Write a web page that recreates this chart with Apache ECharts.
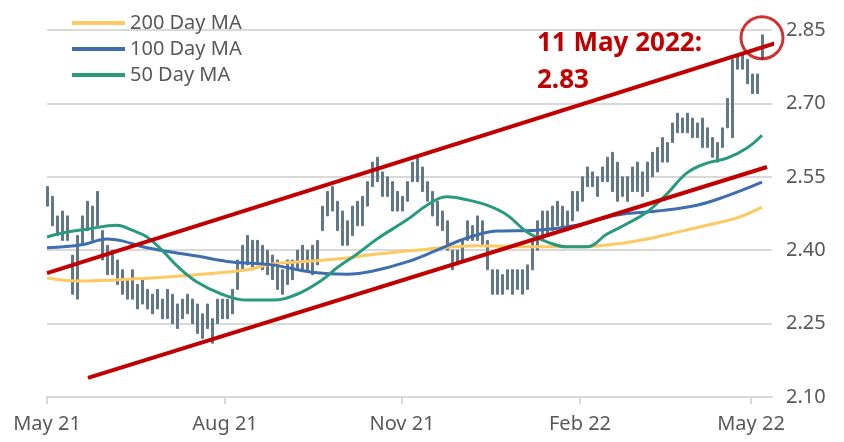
<!DOCTYPE html>
<html>
<head>
<meta charset="utf-8">
<script src="https://cdn.jsdelivr.net/npm/echarts@6/dist/echarts.min.js"></script>
<style>
  html, body { margin: 0; padding: 0; background: #fff; }
  #chart { width: 844px; height: 442px; }
</style>
</head>
<body>
<div id="chart"></div>
<script>
// trading-day slots on the x axis, label positions in slot units
const tickPos = [0, 35.6, 71, 106.6, 140.8];
const tickLabels = ['May 21', 'Aug 21', 'Nov 21', 'Feb 22', 'May 22'];

// daily range of the price (low / high), one entry per slot
const priceLow = [
  2.49, 2.45, 2.43, 2.42, 2.42, 2.31, 2.30, 2.41, 2.44, 2.42,
  2.45, 2.38, 2.35, 2.35, 2.33, 2.31, 2.30, 2.30, 2.28, 2.29,
  2.28, 2.27, 2.28, 2.26, 2.26, 2.25, 2.24, 2.26, 2.27, 2.25,
  2.23, 2.22, 2.24, 2.21, 2.25, 2.26, 2.26, 2.27, 2.32, 2.36,
  2.37, 2.36, 2.37, 2.36, 2.35, 2.34, 2.32, 2.31, 2.33, 2.34,
  2.36, 2.36, 2.36, 2.35, 2.37, 2.44, 2.47, 2.48, 2.44, 2.41,
  2.41, 2.43, 2.45, 2.45, 2.49, 2.53, 2.54, 2.51, 2.51, 2.48,
  2.48, 2.48, 2.50, 2.54, 2.54, 2.52, 2.50, 2.47, 2.45, 2.44,
  2.40, 2.36, 2.37, 2.38, 2.42, 2.42, 2.42, 2.41, 2.36, 2.31,
  2.31, 2.31, 2.32, 2.31, 2.32, 2.31, 2.32, 2.36, 2.40, 2.42,
  2.43, 2.44, 2.45, 2.44, 2.44, 2.46, 2.48, 2.50, 2.53, 2.53,
  2.51, 2.54, 2.54, 2.52, 2.50, 2.51, 2.50, 2.52, 2.52, 2.51,
  2.52, 2.55, 2.56, 2.58, 2.58, 2.62, 2.64, 2.64, 2.64, 2.63,
  2.63, 2.61, 2.61, 2.59, 2.58, 2.61, 2.65, 2.63, 2.77, 2.77,
  2.74, 2.72, 2.72, 2.79
];
const priceHigh = [
  2.53, 2.51, 2.47, 2.48, 2.47, 2.39, 2.43, 2.47, 2.50, 2.49,
  2.52, 2.44, 2.41, 2.40, 2.38, 2.36, 2.34, 2.36, 2.33, 2.34,
  2.32, 2.31, 2.32, 2.30, 2.32, 2.31, 2.29, 2.30, 2.31, 2.30,
  2.29, 2.27, 2.29, 2.26, 2.30, 2.30, 2.30, 2.32, 2.38, 2.41,
  2.43, 2.42, 2.42, 2.41, 2.40, 2.39, 2.38, 2.36, 2.38, 2.38,
  2.40, 2.41, 2.40, 2.41, 2.42, 2.49, 2.52, 2.53, 2.50, 2.48,
  2.46, 2.49, 2.50, 2.51, 2.54, 2.58, 2.59, 2.56, 2.55, 2.54,
  2.52, 2.51, 2.54, 2.58, 2.59, 2.57, 2.54, 2.52, 2.50, 2.48,
  2.46, 2.40, 2.40, 2.42, 2.46, 2.45, 2.47, 2.46, 2.42, 2.36,
  2.36, 2.35, 2.36, 2.36, 2.36, 2.36, 2.37, 2.42, 2.46, 2.48,
  2.48, 2.49, 2.50, 2.49, 2.48, 2.52, 2.52, 2.55, 2.57, 2.56,
  2.55, 2.57, 2.59, 2.60, 2.58, 2.55, 2.55, 2.57, 2.58, 2.56,
  2.58, 2.60, 2.61, 2.63, 2.62, 2.66, 2.68, 2.67, 2.68, 2.67,
  2.66, 2.67, 2.65, 2.63, 2.62, 2.65, 2.71, 2.79, 2.80, 2.80,
  2.79, 2.76, 2.76, 2.84
];

// moving averages, [slot, value]
const ma200 = [
  [0, 2.343], [6, 2.337], [17, 2.341], [30, 2.350], [40, 2.360], [45, 2.372],
  [50, 2.376], [58, 2.382], [66, 2.392], [76, 2.402], [86, 2.409], [96, 2.407],
  [106, 2.407], [114, 2.413], [120, 2.423], [126, 2.437], [132, 2.451],
  [138, 2.466], [143, 2.488]
];
const ma100 = [
  [0, 2.405], [7, 2.411], [12, 2.423], [15, 2.419], [20, 2.405], [30, 2.388],
  [37, 2.376], [45, 2.370], [53, 2.355], [60, 2.351], [65, 2.357], [72, 2.376],
  [78, 2.400], [84, 2.425], [90, 2.439], [98, 2.441], [106, 2.451], [114, 2.472],
  [122, 2.480], [130, 2.492], [136, 2.511], [143, 2.539]
];
const ma50 = [
  [0, 2.427], [4, 2.437], [8, 2.443], [14, 2.451], [17, 2.441], [20, 2.427],
  [23, 2.400], [26, 2.368], [30, 2.335], [35, 2.310], [40, 2.298], [45, 2.298],
  [50, 2.310], [55, 2.339], [58, 2.364], [62, 2.392], [66, 2.423], [72, 2.462],
  [76, 2.492], [80, 2.509], [84, 2.503], [88, 2.492], [92, 2.472], [96, 2.437],
  [100, 2.417], [104, 2.407], [108, 2.407], [112, 2.433], [116, 2.454],
  [120, 2.478], [124, 2.515], [128, 2.558], [132, 2.578], [136, 2.588],
  [140, 2.609], [143, 2.635]
];

// trend channel and highlighted point
const upperTrend = [[0, 2.353], [146.6, 2.826]];
const lowerTrend = [[8.2, 2.139], [144, 2.570]];
const lastPoint = [[143, 2.834]];

const candles = priceLow.map((lo, i) => [i, lo, priceHigh[i], lo, priceHigh[i]]);

const chart = echarts.init(document.getElementById('chart'), null, { renderer: 'canvas' });
const font = 'Noto Sans';
const red = '#c00000';

const maSeries = (name, data, color) => ({
  name: name,
  type: 'line',
  data: data,
  smooth: 0.4,
  showSymbol: false,
  symbol: 'none',
  lineStyle: { width: 3, color: color },
  itemStyle: { color: color },
  z: 3
});

chart.setOption({
  animation: false,
  textStyle: { fontFamily: font },
  grid: { left: 47, right: 72, top: 30, bottom: 45, containLabel: false },
  legend: {
    data: ['200 Day MA', '100 Day MA', '50 Day MA'],
    orient: 'vertical',
    left: 67,
    top: 8,
    icon: 'rect',
    itemWidth: 53,
    itemHeight: 4,
    itemGap: 6,
    textStyle: { fontFamily: font, fontSize: 20, color: '#595959', lineHeight: 20 }
  },
  xAxis: {
    type: 'value',
    min: 0,
    max: 145,
    splitLine: { show: false },
    axisLine: { show: true, lineStyle: { color: '#d9d9d9', width: 2 } },
    axisTick: { show: true, customValues: tickPos, length: 7, lineStyle: { color: '#d9d9d9', width: 2 } },
    axisLabel: {
      customValues: tickPos,
      margin: 17,
      fontFamily: font,
      fontSize: 20,
      color: '#595959',
      formatter: v => tickLabels[tickPos.indexOf(v)]
    }
  },
  yAxis: {
    type: 'value',
    position: 'right',
    min: 2.10,
    max: 2.85,
    interval: 0.15,
    axisLine: { show: false },
    axisTick: { show: false },
    splitLine: { lineStyle: { color: '#d9d9d9', width: 2 } },
    axisLabel: {
      margin: 14,
      fontFamily: font,
      fontSize: 20,
      color: '#595959',
      formatter: v => v.toFixed(2)
    }
  },
  graphic: [
    {
      type: 'text',
      left: 537,
      top: 31,
      style: { text: '11 May 2022:', fill: red, font: 'bold 26px "Noto Sans"' }
    },
    {
      type: 'text',
      left: 537,
      top: 68,
      style: { text: '2.83', fill: red, font: 'bold 26px "Noto Sans"' }
    }
  ],
  series: [
    {
      name: 'Price',
      type: 'candlestick',
      data: candles,
      barWidth: 2.5,
      itemStyle: { color: '#637886', color0: '#637886', borderColor: '#637886', borderColor0: '#637886', borderWidth: 1 },
      z: 2
    },
    maSeries('200 Day MA', ma200, '#fcc962'),
    maSeries('100 Day MA', ma100, '#3e6ead'),
    maSeries('50 Day MA', ma50, '#2a9a7f'),
    {
      name: 'Upper channel',
      type: 'line',
      data: upperTrend,
      symbol: 'none',
      clip: false,
      lineStyle: { width: 4, color: red },
      z: 4
    },
    {
      name: 'Lower channel',
      type: 'line',
      data: lowerTrend,
      symbol: 'none',
      clip: false,
      lineStyle: { width: 4, color: red },
      z: 4
    },
    {
      name: 'Latest',
      type: 'scatter',
      data: lastPoint,
      symbol: 'circle',
      symbolSize: 42,
      clip: false,
      itemStyle: { color: 'rgba(0,0,0,0)', borderColor: red, borderWidth: 3 },
      z: 5
    }
  ]
});
</script>
</body>
</html>
